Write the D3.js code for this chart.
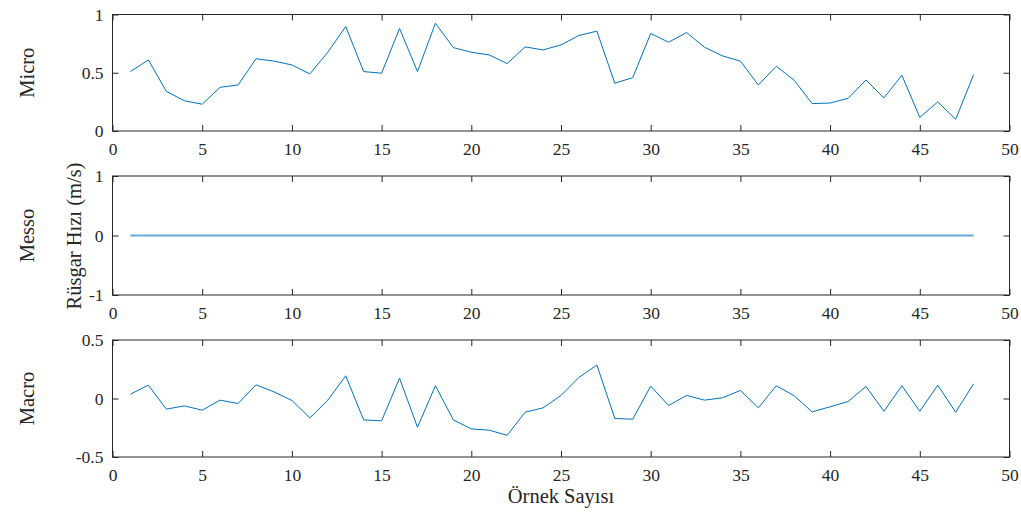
<!DOCTYPE html>
<html>
<head>
<meta charset="utf-8">
<script src="https://cdn.jsdelivr.net/npm/d3@7"></script>
<style>
  body { margin: 0; background: #fff; }
  svg text { font-family: "Liberation Serif", "Times New Roman", serif; fill: #262626; }
</style>
</head>
<body>
<svg width="1021" height="512"></svg>
<script>
const svg = d3.select('svg');

// data
const samples = d3.range(1, 49);
const micro = [0.51, 0.61, 0.34, 0.26, 0.23, 0.375, 0.395, 0.62, 0.60, 0.567,
  0.49, 0.676, 0.897, 0.51, 0.496, 0.88, 0.51, 0.925, 0.716, 0.676,
  0.653, 0.579, 0.722, 0.696, 0.739, 0.82, 0.857, 0.41, 0.458, 0.837,
  0.762, 0.845, 0.719, 0.645, 0.60, 0.395, 0.556, 0.435, 0.235, 0.24,
  0.28, 0.438, 0.284, 0.478, 0.117, 0.25, 0.10, 0.484];
const messo = samples.map(() => 0);
const macro = [0.037, 0.114, -0.091, -0.063, -0.10, -0.014, -0.043, 0.117, 0.057, -0.017,
  -0.166, -0.014, 0.194, -0.183, -0.191, 0.174, -0.246, 0.109, -0.183, -0.26,
  -0.271, -0.314, -0.117, -0.08, 0.026, 0.18, 0.286, -0.171, -0.177, 0.106,
  -0.06, 0.026, -0.014, 0.006, 0.069, -0.08, 0.109, 0.023, -0.114, -0.071,
  -0.026, 0.103, -0.109, 0.109, -0.109, 0.114, -0.117, 0.126];

const xTicks = [0, 5, 10, 15, 20, 25, 30, 35, 40, 45, 50];
const panels = [
  { name: 'Micro', values: micro, domain: [0, 1], ticks: [0, 0.5, 1], top: 14.5, bottom: 131 },
  { name: 'Messo', values: messo, domain: [-1, 1], ticks: [-1, 0, 1], top: 176, bottom: 295 },
  { name: 'Macro', values: macro, domain: [-0.5, 0.5], ticks: [-0.5, 0, 0.5], top: 340, bottom: 457 }
];

const left = 112.5, right = 1009.5;
const lineColor = '#0072BD';
const tickFont = 17.5;
const labelFont = 20.5;

const x = d3.scaleLinear().domain([0, 50]).range([left, right]);

panels.forEach(p => {
  const y = d3.scaleLinear().domain(p.domain).range([p.bottom, p.top]);
  const g = svg.append('g');

  // box
  g.append('rect')
    .attr('x', left).attr('y', p.top)
    .attr('width', right - left).attr('height', p.bottom - p.top)
    .attr('fill', 'none').attr('stroke', '#262626').attr('stroke-width', 1);

  // x axis bottom with labels, ticks inward
  const xAxisG = g.append('g')
    .attr('transform', `translate(0,${p.bottom})`)
    .call(d3.axisBottom(x).tickValues(xTicks).tickSize(-6).tickFormat(d3.format('d')));
  const xTop = g.append('g')
    .attr('transform', `translate(0,${p.top})`)
    .call(d3.axisTop(x).tickValues(xTicks).tickSize(-6).tickFormat(''));

  // y axis left with labels, right ticks
  const yAxisG = g.append('g')
    .attr('transform', `translate(${left},0)`)
    .call(d3.axisLeft(y).tickValues(p.ticks).tickSize(-6).tickPadding(9).tickFormat(d => d));
  const yRight = g.append('g')
    .attr('transform', `translate(${right},0)`)
    .call(d3.axisRight(y).tickValues(p.ticks).tickSize(-6).tickFormat(''));

  [xAxisG, xTop, yAxisG, yRight].forEach(a => {
    a.attr('font-family', null).attr('font-size', null);
    a.select('.domain').remove();
    a.selectAll('line').attr('stroke', '#262626');
    a.selectAll('text')
      .style('font-family', '"Liberation Serif", serif')
      .style('font-size', tickFont + 'px')
      .attr('fill', '#262626');
  });
  xAxisG.selectAll('text').attr('y', 12).attr('dy', '0.71em');

  // the series
  const line = d3.line()
    .x((d, i) => x(samples[i]))
    .y(d => y(d));
  g.append('path')
    .datum(p.values)
    .attr('d', line)
    .attr('fill', 'none')
    .attr('stroke', lineColor)
    .attr('stroke-width', p.name === 'Messo' ? 2 : 1)
    .attr('stroke-opacity', p.name === 'Messo' ? 0.6 : 1);

  // panel label
  g.append('text')
    .text(p.name)
    .attr('text-anchor', 'middle')
    .style('font-size', labelFont + 'px')
    .attr('transform', `translate(${34},${(p.top + p.bottom) / 2})rotate(-90)`);
});

// shared labels
svg.append('text')
  .text('Rüsgar Hızı (m/s)')
  .attr('text-anchor', 'middle')
  .style('font-size', labelFont + 'px')
  .attr('transform', `translate(${81},${236})rotate(-90)`);

svg.append('text')
  .text('Örnek Sayısı')
  .attr('text-anchor', 'middle')
  .style('font-size', labelFont + 'px')
  .attr('x', (left + right) / 2)
  .attr('y', 503);
</script>
</body>
</html>
